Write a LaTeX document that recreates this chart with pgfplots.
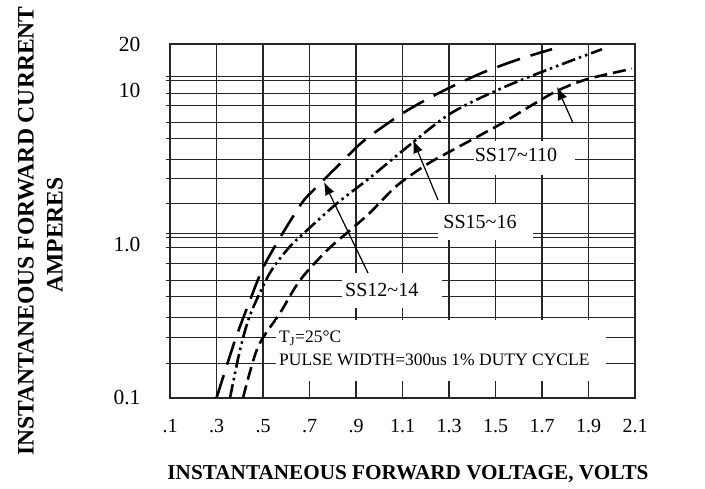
\documentclass[border=0pt]{standalone}
\usepackage{fontspec}
\setmainfont{Liberation Serif}
\usepackage{pgfplots}
\pgfplotsset{compat=1.18}
\usetikzlibrary{arrows.meta}

\begin{document}
\begin{tikzpicture}[x=1pt,y=1pt]
\path[use as bounding box] (0,0) rectangle (705,489);
\begin{axis}[
  at={(170pt,91pt)}, anchor=south west,
  width=465pt, height=354pt, scale only axis,
  xmin=0.1, xmax=2.1,
  ymode=log, ymin=0.1, ymax=20,
  xtick={0.1,0.3,0.5,0.7,0.9,1.1,1.3,1.5,1.7,1.9,2.1},
  xticklabels={.1,.3,.5,.7,.9,1.1,1.3,1.5,1.7,1.9,2.1},
  ytick={0.1,1,10,20},
  yticklabels={0.1,1.0,10,20},
  extra y ticks={0.1686,0.2485,0.3350,0.4583,0.5816,0.7498,0.9519,1.105,1.173,
                 1.836,2.666,3.539,4.842,6.149,7.924,9.478,11.51,12.22},
  extra y tick labels={},
  extra y tick style={ymajorgrids=true, ytick pos=left, tick align=outside,
                      major tick length=4pt,
                      tick style={draw=black!85, line width=1.1pt}},
  minor tick num=0,
  xmajorgrids=true, ymajorgrids=false,
  major grid style={black!85, line width=1.1pt},
  axis line style={black!85, line width=1.3pt},
  tick style={draw=none},
  xticklabel style={font=\fontsize{20}{24}\selectfont, yshift=-18pt},
  yticklabel style={font=\fontsize{21.5}{24}\selectfont, xshift=-26pt},
  /pgf/number format/assume math mode=true,
]
% SS12~14
\addplot[black, line width=2.6pt, dash pattern=on 24pt off 11pt, smooth] coordinates {
  (0.300,0.100) (0.380,0.238) (0.444,0.431) (0.500,0.700) (0.573,1.10)
  (0.668,1.86) (0.728,2.33) (0.844,3.48) (0.939,4.77) (1.111,7.25)
  (1.274,9.90) (1.442,12.97) (1.605,16.0) (1.743,18.5)
};
% SS15~16
\addplot[black, line width=2.6pt, dash pattern=on 14pt off 4pt on 2.5pt off 4pt on 2.5pt off 4pt, smooth] coordinates {
  (0.358,0.100) (0.401,0.205) (0.444,0.345) (0.517,0.600) (0.560,0.76)
  (0.620,0.98) (0.689,1.23) (0.818,1.84) (0.960,2.70) (1.111,4.17) (1.304,7.03)
  (1.519,10.2) (1.734,13.8) (1.958,18.5)
};
% SS17~110
\addplot[black, line width=2.6pt, dash pattern=on 13pt off 6pt, smooth] coordinates {
  (0.414,0.100) (0.478,0.214) (0.573,0.356) (0.659,0.582) (0.775,0.91)
  (0.874,1.23) (0.960,1.60) (1.076,2.40) (1.205,3.30) (1.304,4.00)
  (1.519,6.00) (1.650,7.90) (1.764,9.90) (1.893,11.8) (2.087,13.8)
};
\end{axis}
% white label boxes
\fill[white] (342,181) rectangle (442,216);
\fill[white] (438,249) rectangle (533,285);
\fill[white] (474,314) rectangle (575,348);
\fill[white] (276,108) rectangle (606,169);
% labels
\node[anchor=west, inner sep=0pt, font=\fontsize{20}{24}\selectfont] at (345,199) {SS12\char`~14};
\node[inner sep=0pt, font=\fontsize{20}{24}\selectfont] at (480,267) {SS15\char`~16};
\node[inner sep=0pt, font=\fontsize{20}{24}\selectfont] at (516,334) {SS17\char`~110};
\node[anchor=west, inner sep=0pt, font=\fontsize{17.5}{20}\selectfont] at (279,151) {T\textsubscript{J}=25\textdegree C};
\node[anchor=west, inner sep=0pt, font=\fontsize{17.5}{20}\selectfont] at (279,129) {PULSE WIDTH=300us 1\% DUTY CYCLE};
% arrows
\draw[line width=1.2pt, -{Latex[length=13pt,width=10pt]}] (368,216) -- (324,307);
\draw[line width=1.2pt, -{Latex[length=13pt,width=10pt]}] (438,289) -- (413,349);
\draw[line width=1.2pt, -{Latex[length=13pt,width=10pt]}] (573,366) -- (557,402);
% axis titles
\node[rotate=90, font=\bfseries\fontsize{23.6}{26}\selectfont] at (26,258) {INSTANTANEOUS FORWARD CURRENT};
\node[rotate=90, font=\bfseries\fontsize{23.6}{26}\selectfont] at (55,254) {AMPERES};
\node[anchor=base, font=\bfseries\fontsize{21.2}{24}\selectfont] at (408,9) {INSTANTANEOUS FORWARD VOLTAGE, VOLTS};
\end{tikzpicture}
\end{document}
